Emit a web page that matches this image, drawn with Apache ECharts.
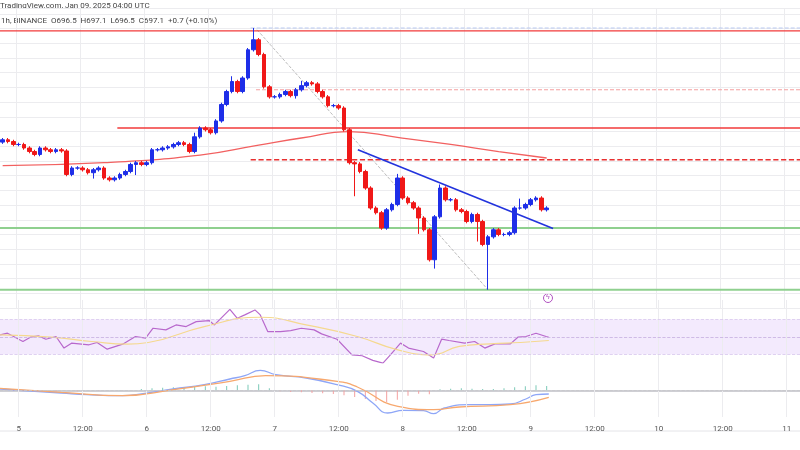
<!DOCTYPE html>
<html><head><meta charset="utf-8">
<script src="https://cdn.jsdelivr.net/npm/echarts@6/dist/echarts.min.js"></script>
<style>html,body{margin:0;padding:0;background:#fff}#c{width:800px;height:450px}</style>
</head><body><div id="c"></div>
<script>
// hourly closes (slot 0 = Jan 4 21:00 UTC)
const closes = [708.6,708.3,707.8,707.8,707.2,706.6,706.1,707.2,706.9,706.6,706.9,706.7,
 702.7,703.8,703.8,703.5,703.0,703.5,703.8,702.1,701.8,702.1,702.7,703.2,704.4,704.7,704.4,704.7,
 706.9,706.9,707.2,707.4,707.8,708.1,707.8,706.6,709.1,710.6,710.3,709.8,711.8,714.6,716.8,718.5,716.8,719.1,723.9,725.6,
 723.1,717.6,715.9,715.9,716.3,716.8,716.1,717.1,717.8,718.3,718.1,716.8,715.9,714.4,714.4,714.0,710.3,704.7,
 704.5,703.2,700.4,697.0,696.2,693.6,696.7,697.6,702.1,698.7,697.9,697.0,695.3,693.3,688.2,695.5,700.4,698.4,698.4,696.7,696.4,694.7,695.9,694.7,690.8,692.1,693.3,692.5,692.5,692.8,697.0,697.0,697.6,698.4,698.7,696.7,697.0];
const firstOpen = 708.2;
const wickHigh = {47:727.6, 43:719.4, 36:709.8, 56:718.6, 74:702.8, 82:701.0, 97:698.6};
const wickLow = {66:699.0, 91:683.1, 89:691.3, 78:692.6, 17:702.0, 25:702.6, 81:686.7, 55:715.6};
const hourLabels = ['5','12:00','6','12:00','7','12:00','8','12:00','9','12:00','10','12:00','11'];
const maPts = [[0,704.2],[19,704.7],[37,706.0],[48,707.7],[56,708.9],[65,710.0],[74,709.0],[84,707.8],[93,706.6],[102,705.5]];
const levels = [
  {p:727.1, from:0, color:'#f23a3a', type:'solid', w:1.3},
  {p:727.6, from:47, color:'#b8c8f0', type:'dashed', w:1},
  {p:717.1, from:48, color:'#f4a0a0', type:'dashed', w:1},
  {p:710.6, from:22, color:'#f23a3a', type:'solid', w:1.3},
  {p:705.2, from:47, color:'#e83030', type:'dashed', w:1.3},
  {p:693.6, from:0, color:'#8fd08f', type:'solid', w:2},
  {p:683.1, from:0, color:'#8fd08f', type:'solid', w:2}
];
const trend = [[66.6,706.9],[103.2,693.5]];
const fib = [[47.7,727.3],[91,683.1]];
const rsi = [[-0.5,52.3],[0.9,54.2],[3.8,44.7],[5.2,49.6],[6.7,51.1],[8.1,47.3],[10,50.4],[11.5,37.1],[12.9,42.8],[16.2,40.9],[17.7,43.5],[19.6,35.9],[22.5,41.6],[24.9,50.4],[26.8,48.5],[28.2,59.9],[30.6,58],[32.5,63.7],[34.4,61.8],[36.3,67.5],[38.7,68.7],[39.7,63.7],[42.6,81.6],[44,71.3],[45.4,75.2],[47.3,80.9],[48.3,75.2],[49.7,56.1],[52.1,56.1],[54,57.2],[56,59.9],[58.4,58],[59.8,53.4],[62.7,47.3],[65.5,29.4],[67.4,28.3],[69.4,23],[71.3,19.9],[72.7,29.4],[74.6,42.8],[76.1,37.1],[78.9,33.2],[80.8,25.6],[82.3,47.3],[83.7,45.8],[86.6,42.8],[88.5,44.7],[90.4,37.1],[92.3,42],[95.2,42],[96.6,49.6],[98.1,50.4],[100,54.2],[101.9,50.4],[102.4,49.6]];
const rsiMa = [[-0.5,52.3],[9.1,49.6],[16.7,44.7],[23.4,41.6],[27.3,43.5],[37.8,61.8],[48.3,72.5],[56.9,63.7],[66.5,50.4],[74.1,35.1],[80.4,29.4],[85.6,39],[91.4,42],[97.1,43.5],[102.4,45.8]];
const macd = [[-0.5,0.4],[11,-0.8],[15.8,-1.3],[22.5,-1.6],[26.3,-1.0],[32,0.4],[37.8,1.7],[42.6,3.4],[45.4,4.4],[48.3,6.0],[51.2,4.7],[56.9,3.7],[62.7,1.7],[66.5,-0.3],[69.4,-3.8],[72.2,-6.8],[75.1,-6.0],[78.9,-6.1],[80.8,-7.0],[82.8,-5.3],[87.5,-4.3],[91.4,-4.3],[95.2,-4.1],[98.1,-2.6],[100,-1.3],[102.4,-1.1]];
const signal = [[-0.5,0.6],[11,-0.6],[22.5,-1.6],[32,0.2],[42.6,2.7],[49.3,4.4],[62.7,2.7],[66.5,1.0],[74.1,-4.8],[80.8,-5.8],[85.6,-5.0],[95.2,-4.3],[102.4,-2.1]];
const hist = [[2,-0.2],[6,-0.2],[10,-0.3],[14,-0.3],[18,-0.2],[22,0.1],[26,0.4],[28,0.6],[30,0.8],[32,0.9],[34,1.0],[36,1.1],[38,1.2],[40,1.1],[42,1.3],[44,1.5],[46,1.7],[48,1.8],[50,0.6],[52,-0.3],[54,-0.5],[56,-0.6],[58,-0.8],[60,-0.9],[62,-1.1],[64,-1.5],[66,-2.0],[68,-2.6],[70,-3.2],[72,-3.5],[74,-2.8],[76,-1.6],[78,-1.0],[80,-1.2],[82,0.3],[84,0.5],[86,0.6],[88,0.5],[90,0.4],[92,0.4],[94,0.6],[96,0.9],[98,1.2],[100,1.5],[102,1.3]];

const N = 150;
const cats = []; for (let i=0;i<N;i++) cats.push(i);
const candles = [];
let prev = firstOpen;
closes.forEach((c,i)=>{
  const o = prev;
  const hi = wickHigh[i] !== undefined ? wickHigh[i] : Math.max(o,c)+0.3;
  const lo = wickLow[i] !== undefined ? wickLow[i] : Math.min(o,c)-0.3;
  candles.push([o,c,lo,hi]); prev = c;
});
const labelIdx = hourLabels.map((_,k)=>3+12*k);
const vLines = labelIdx.map(x=>({xAxis:x}));
const gridCol = '#ececef';
const chart = echarts.init(document.getElementById('c'));
const vx = (g, show) => ({type:'value', gridIndex:g, min:-0.5, max:149.5, show:show,
   axisLine:{show:show, lineStyle:{color:'#cfcfd4', width:2}}, axisTick:{show:false}, splitLine:{show:false},
   axisLabel:{show:show, customValues:labelIdx, color:'#555', fontSize:8, fontFamily:'Roboto',
     formatter:v=>hourLabels[Math.round((v-3)/12)]}});
const levelSeries = levels.map(l=>({type:'line', xAxisIndex:3, yAxisIndex:0, data:[[l.from-0.5,l.p],[149.5,l.p]], showSymbol:false, silent:true,
  lineStyle:{color:l.color, type:l.type, width:l.w}, z:3}));
chart.setOption({
  animation:false,
  graphic:[
    {type:'text', left:0, top:2, style:{text:'TradingView.com, Jan 09, 2025 04:00 UTC', fill:'#444', fontSize:8, fontFamily:'Roboto'}},
    {type:'text', left:1, top:17, style:{text:'1h, BINANCE  O696.5  H697.1  L696.5  C697.1  +0.7 (+0.10%)', fill:'#444', fontSize:8, fontFamily:'Roboto'}},
    {type:'line', shape:{x1:0,y1:431,x2:800,y2:431}, style:{stroke:'#e4e4e8', lineWidth:1}},
    {type:'circle', shape:{cx:548, cy:298, r:4.5}, style:{fill:'none', stroke:'#b050c0', lineWidth:1}},
    {type:'text', x:546, y:294, style:{text:'ϟ', fill:'#b050c0', fontSize:7}}
  ],
  grid:[
    {left:0, right:0, top:8, height:300},
    {left:0, right:0, top:300, height:63},
    {left:0, right:0, top:362, height:55}
  ],
  xAxis:[
    {type:'category', gridIndex:0, data:cats, show:true, boundaryGap:true, axisLine:{show:false}, axisTick:{show:false}, axisLabel:{show:false},
      splitLine:{show:true, interval:(i)=> (i-3)%12===0, lineStyle:{color:gridCol}}},
    vx(1,false), vx(2,true), vx(0,false)
  ],
  yAxis:[
    {type:'value', gridIndex:0, min:680, max:731, interval:2.5, show:true, position:'right', axisLabel:{show:false}, axisLine:{show:false}, axisTick:{show:false}, splitLine:{lineStyle:{color:gridCol}}},
    {type:'value', gridIndex:1, min:20, max:92.3, show:false, splitLine:{show:false}},
    {type:'value', gridIndex:2, min:-8, max:8.5, show:false, splitLine:{show:false}}
  ],
  series:[
    {type:'candlestick', xAxisIndex:0, yAxisIndex:0, data:candles, barWidth:4.2, z:4,
      itemStyle:{color:'#1e2ee8', color0:'#f01818', borderColor:'#1e2ee8', borderColor0:'#f01818', borderWidth:1}},
    ...levelSeries,
    {type:'line', xAxisIndex:0, yAxisIndex:0, data:maPts, smooth:true, showSymbol:false, lineStyle:{color:'#f26060', width:1.3}, z:2},
    {type:'line', xAxisIndex:3, yAxisIndex:0, data:trend, showSymbol:false, lineStyle:{color:'#2233dd', width:1.6}, z:5},
    {type:'line', xAxisIndex:3, yAxisIndex:0, data:fib, showSymbol:false, lineStyle:{color:'#aaaaaa', width:0.8, type:'dashed'}, z:1},
    {type:'line', xAxisIndex:1, yAxisIndex:1, data:rsi, showSymbol:false, lineStyle:{color:'#b868cc', width:1.2},
      markLine:{silent:true, symbol:'none', label:{show:false}, data:[...vLines.map(v=>({...v, lineStyle:{color:gridCol, type:'solid', width:1}})),
        {yAxis:50, lineStyle:{color:'#c5aee0', type:'dashed', width:0.8}},
        {yAxis:70, lineStyle:{color:'#d8c6ee', type:'dashed', width:0.8}},
        {yAxis:30, lineStyle:{color:'#d8c6ee', type:'dashed', width:0.8}}]},
      markArea:{silent:true, itemStyle:{color:'rgba(190,140,245,0.18)'}, data:[[{yAxis:30},{yAxis:70}]]}},
    {type:'line', xAxisIndex:1, yAxisIndex:1, data:rsiMa, smooth:true, showSymbol:false, lineStyle:{color:'#f5d98f', width:1.2}},
    {type:'bar', xAxisIndex:2, yAxisIndex:2, data:hist.map(d=>({value:d, itemStyle:{color:d[1]>=0?'#7cc9b8':'#f4a0a0'}})), barWidth:1,
      markLine:{silent:true, symbol:'none', label:{show:false}, data:[...vLines.map(v=>({...v, lineStyle:{color:gridCol, type:'solid', width:1}})),
        {yAxis:0, lineStyle:{color:'#c8c8cc', type:'dashed', width:0.8}}]}},
    {type:'line', xAxisIndex:2, yAxisIndex:2, data:macd, smooth:true, showSymbol:false, lineStyle:{color:'#8ea6f7', width:1.3}},
    {type:'line', xAxisIndex:2, yAxisIndex:2, data:signal, smooth:true, showSymbol:false, lineStyle:{color:'#f7a86e', width:1.3}}
  ]
});
</script></body></html>
